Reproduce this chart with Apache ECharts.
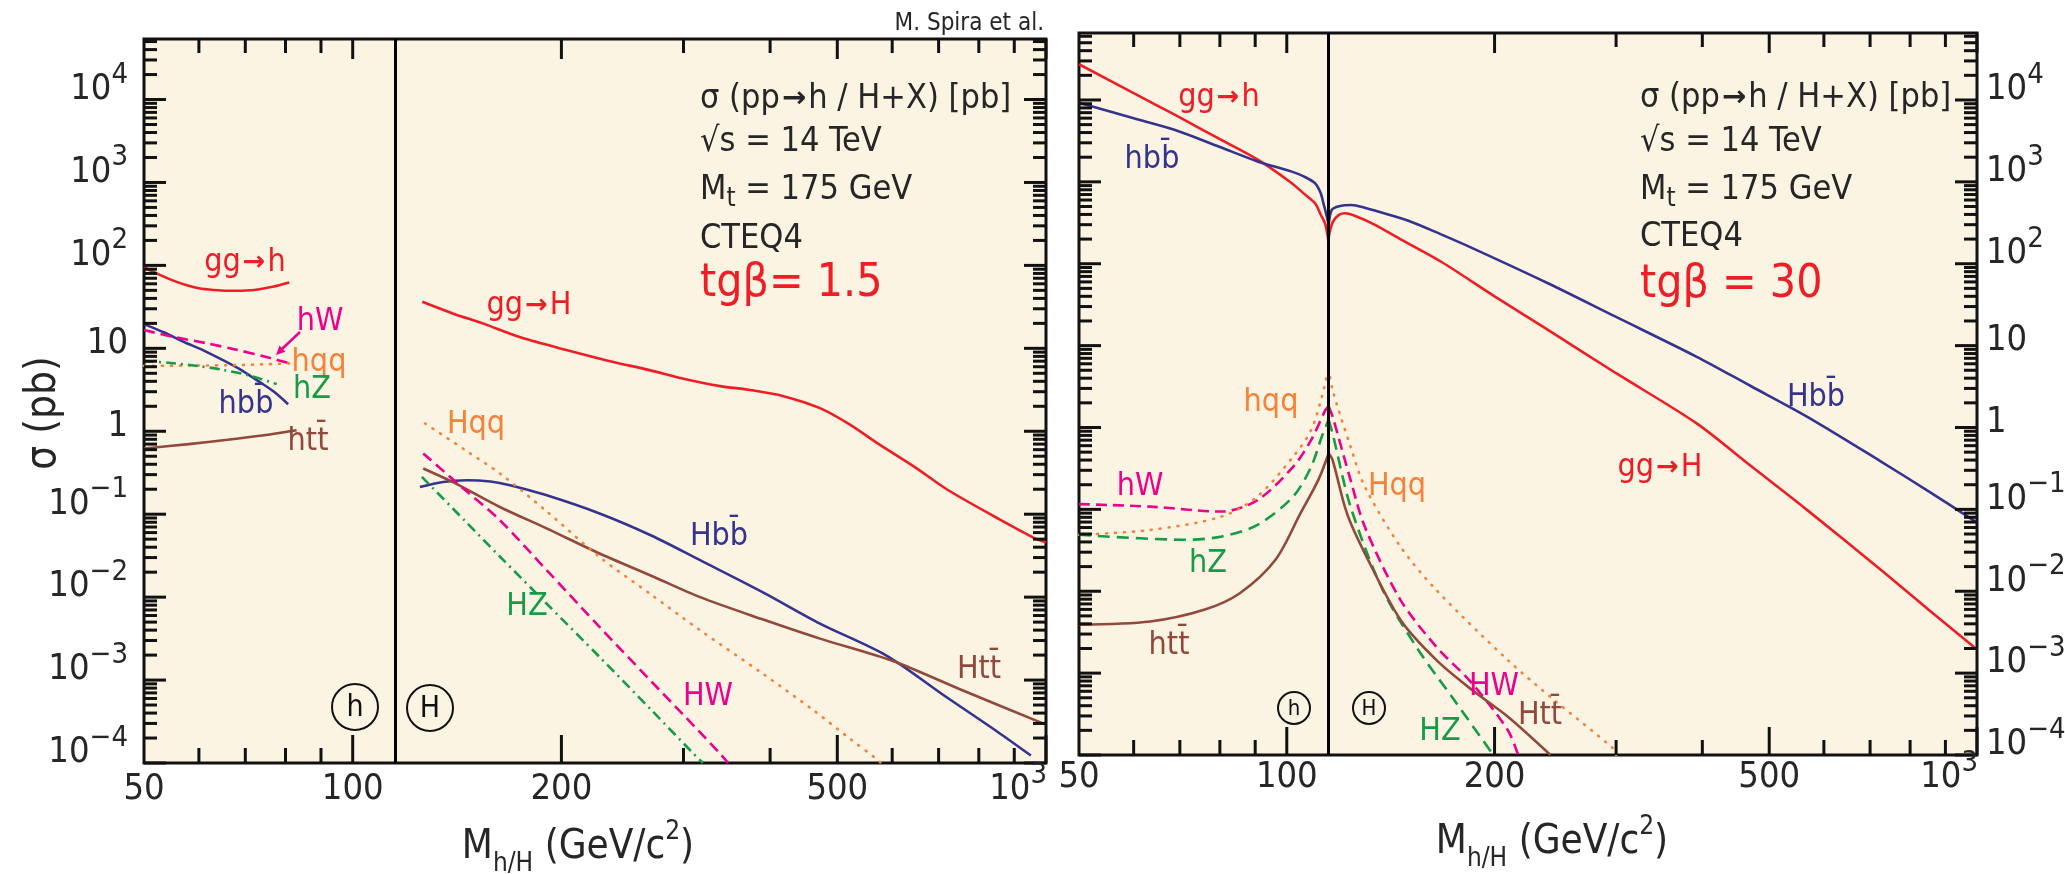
<!DOCTYPE html>
<html><head><meta charset="utf-8">
<script src="https://cdn.jsdelivr.net/npm/echarts@6/dist/echarts.min.js"></script>
<style>html,body{margin:0;padding:0;background:#fff}#c{width:2065px;height:874px}</style>
</head><body><div id="c"></div>
<script>
// ================= DATA : tg(beta) = 1.5  (left panel) =================
// [M_h/H (GeV), sigma (pb)]
const L_GG_h = [[50,95],[52.5,78],[55,66],[57.5,58],[60,53],[63,50.5],[66,49.4],[70,49.8],[73,51.3],[77,55.5],[81,62]];
const L_BB_h = [[50,19.6],[53.5,15.5],[57,12.0],[61,9.4],[65,7.2],[69,5.5],[72.7,4.13],[77,3.0],[80.7,2.12]];
const L_W_h  = [[50,16.6],[55,13.8],[61.6,11.5],[68,9.6],[74.3,8.05],[78,7.2],[81.2,6.57]];
const L_QQ_h = [[50,6.15],[58,6.2],[66,6.25],[74,6.4],[81.2,6.6]];
const L_Z_h  = [[50,7.0],[54.2,6.7],[60,6.1],[65,5.5],[71,4.7],[77.7,3.7]];
const L_TT_h = [[50,0.62],[58,0.70],[66,0.79],[74,0.89],[83,1.03]];

const L_GG_H = [[126,36.4],[140,26],[154,20],[175,13.5],[204,9.5],[235,7.0],[268,5.46],[300,4.3],[339,3.5],[374,3.15],[418,2.65],[472,1.9],[520,1.22],[574,0.70],[650,0.36],[719,0.20],[850,0.09],[962,0.0515],[1000,0.046]];
const L_BB_H = [[125,0.213],[135,0.245],[146,0.257],[158,0.248],[168.6,0.224],[190,0.17],[227,0.102],[270,0.055],[317,0.0279],[390,0.0115],[472,4.8e-3],[587,2.0e-3],[719,6.2e-4],[850,2.4e-4],[951,1.23e-4]];
const L_TT_H = [[126.4,0.356],[140,0.24],[163,0.122],[190,0.068],[227,0.0336],[270,0.018],[317,0.01],[390,5.4e-3],[472,3.16e-3],[600,1.71e-3],[750,7.8e-4],[1000,2.9e-4]];
const L_QQ_H = [[127.2,1.24],[145,0.6],[163,0.31],[190,0.11],[227,0.0305],[270,0.0106],[317,3.99e-3],[390,1.2e-3],[462,4.32e-4],[520,2.0e-4],[568,1.14e-4],[578,1.0e-4]];
const L_W_H  = [[126.4,0.54],[145,0.198],[163,0.0847],[190,0.0216],[227,4.37e-3],[270,9.5e-4],[300,3.8e-4],[338.6,1.3e-4],[348,1.0e-4]];
const L_Z_H  = [[125.8,0.282],[145,0.084],[163,0.0309],[190,8.5e-3],[227,1.9e-3],[270,4.3e-4],[310,1.3e-4],[320,1.0e-4]];

// ================= DATA : tg(beta) = 30  (right panel) =================
const R_GG_h = [[50,27300],[60,12100],[68.9,6560],[80,3320],[90.9,1850],[101.7,961],[106,713],[109.9,548],[112,397],[113.6,312],[114.5,230],[115,175]];
const R_BB_h = [[50,9270],[60,5980],[68.9,4300],[80,2665],[90.9,1765],[101.7,1333],[106,1158],[109.9,961],[112,726],[113,548],[114.3,376],[115,300]];
const R_W_h  = [[50,0.116],[63.4,0.108],[80.5,0.094],[90.7,0.130],[102.2,0.333],[108.5,0.706],[113.8,1.64],[115,1.80]];
const R_QQ_h = [[50,0.0489],[63.4,0.056],[80.5,0.0817],[90.7,0.144],[102.2,0.442],[108.5,0.935],[112.4,2.38],[115,5.29]];
const R_Z_h  = [[50,0.0489],[71.5,0.0425],[80.5,0.0466],[90.7,0.0647],[102.2,0.144],[108.5,0.333],[112.4,0.774],[115,1.24]];
const R_TT_h = [[50,3.89e-3],[63.4,4.27e-3],[75.9,5.93e-3],[85.5,9.46e-3],[96.3,0.0242],[104.7,0.0898],[111.1,0.229],[115,0.485]];

const R_GG_H = [[115,210],[116.5,320],[119,395],[121.5,414],[127,370],[134,300],[146,200],[167.6,105],[200,40],[239,15.6],[300,4.6],[392,1.13],[470,0.34],[567,0.0986],[726,0.0182],[850,6.0e-3],[1000,1.94e-3]];
const R_BB_H = [[115,300],[116.2,454],[119,505],[124.2,522],[130,480],[136,430],[150,335],[167,230],[187.4,150],[239,57.8],[300,22.4],[392,7.35],[470,3.21],[567,1.36],[726,0.384],[850,0.167],[1000,0.069]];
const R_QQ_H = [[115,5.29],[116.5,2.88],[123.7,0.585],[129.7,0.19],[146.1,0.0351],[164.6,0.0104],[208.9,1.45e-3],[243.8,4.72e-4],[298.6,1.16e-4],[300,1.0e-4]];
const R_W_H  = [[115,1.80],[116.5,1.36],[123.7,0.229],[129.7,0.0616],[146.1,7.85e-3],[164.6,2.11e-3],[185.4,7.55e-4],[208.9,2.03e-4],[216.4,1.0e-4]];
const R_Z_H  = [[115,1.24],[116.5,0.851],[123.7,0.108],[137.7,0.0104],[155.1,1.92e-3],[174.7,4.72e-4],[199.2,1.0e-4]];
const R_TT_H = [[115,0.485],[116.5,0.402],[122.2,0.0898],[129.7,0.0292],[146.1,4.48e-3],[164.6,1.45e-3],[185.4,6.25e-4],[208.9,2.95e-4],[241,1.0e-4]];

// ================= AXES : ticks & labels =================
const X_TICK_MAJOR = [100, 200, 500, 1000];
const X_TICK_MINOR = [60, 70, 80, 90, 300, 400, 600, 700, 800, 900];
const Y_DECADES = [1e-4, 1e-3, 1e-2, 1e-1, 1, 10, 100, 1000, 10000];
const Y_MINOR_MULT = [2, 3, 4, 5, 6, 7, 8, 9];
const X_LABEL_VALUES = [50, 100, 200, 500, 1000];
const X_LABELS = ['50', '100', '200', '500', '10^3'];
const Y_LABELS = ['10^-4', '10^-3', '10^-2', '10^-1', '1', '10', '10^2', '10^3', '10^4'];
const M_SEPARATOR = 115;
const X_MIN = 50, X_MAX = 1000, Y_MIN = 1e-4;

// ================= STYLE =================
const FONT = "'Liberation Sans Narrow','Arial Narrow','DejaVu Sans Condensed','Liberation Sans',sans-serif";
const RED = '#ee1d26', BLUE = '#34348f', MAG = '#ec008c', ORA = '#f5823a', GRN = '#169c47', BRN = '#90493b';
const INK = '#262626';
const DASH = [11, 6], DOT = [1, 8], DASHDOT = [10, 5, 2, 5];

const PANELS = [
  { grid: { left: 144, top: 39, width: 902, height: 724 }, yMax: 53680, labSide: 'left', xLabGap: 27 },
  { grid: { left: 1079, top: 33, width: 898, height: 722 }, yMax: 65770, labSide: 'right', xLabGap: 23 }
];

const RICH = {
  b: { fontSize: 36, fontFamily: FONT, lineHeight: 58, fill: INK },
  s: { fontSize: 29, fontFamily: FONT, lineHeight: 29, verticalAlign: 'top', fill: INK }
};
function fmtPow(t) {
  const i = t.indexOf('^');
  if (i < 0) return '{b|' + t + '}';
  return '{b|' + t.slice(0, i) + '}{s|' + t.slice(i + 1).replace('-', '\u2212') + '}';
}

function tickSeries(pi) {
  const P = PANELS[pi];
  const data = [];
  X_TICK_MAJOR.forEach(v => data.push([v, Y_MIN, 0]));
  X_TICK_MINOR.forEach(v => data.push([v, Y_MIN, 1]));
  Y_DECADES.forEach(d => {
    data.push([X_MIN, d, 2]);
    Y_MINOR_MULT.forEach(m => { if (d * m <= P.yMax) data.push([X_MIN, d * m, 3]); });
  });
  return {
    type: 'custom', xAxisIndex: pi, yAxisIndex: pi, silent: true, clip: false, z: 6, animation: false,
    data,
    renderItem(params, api) {
      const cs = params.coordSys;
      const k = api.value(2);
      const p = api.coord([api.value(0), api.value(1)]);
      const st = { stroke: '#111', lineWidth: 3 };
      if (k < 2) {
        const L = k === 0 ? 28 : 15, Lt = k === 0 ? 20 : 14;
        const b = cs.y + cs.height, t = cs.y;
        return { type: 'group', children: [
          { type: 'line', shape: { x1: p[0], y1: b, x2: p[0], y2: b - L }, style: st },
          { type: 'line', shape: { x1: p[0], y1: t, x2: p[0], y2: t + Lt }, style: st }
        ] };
      }
      const L = k === 2 ? 22 : 13;
      const l = cs.x, r = cs.x + cs.width;
      return { type: 'group', children: [
        { type: 'line', shape: { x1: l, y1: p[1], x2: l + L, y2: p[1] }, style: st },
        { type: 'line', shape: { x1: r, y1: p[1], x2: r - L, y2: p[1] }, style: st }
      ] };
    }
  };
}

function labelSeries(pi) {
  const P = PANELS[pi];
  const data = [];
  X_LABEL_VALUES.forEach((v, i) => data.push([v, Y_MIN, i, 0]));
  Y_DECADES.forEach((v, i) => data.push([X_MIN, v, i, 1]));
  return {
    type: 'custom', xAxisIndex: pi, yAxisIndex: pi, silent: true, clip: false, z: 7, animation: false,
    data,
    renderItem(params, api) {
      const cs = params.coordSys;
      const p = api.coord([api.value(0), api.value(1)]);
      const i = api.value(2), ax = api.value(3);
      if (ax === 0) {
        const last = X_LABEL_VALUES[i] === X_MAX;
        return { type: 'text', x: last ? p[0] + 1 : p[0], y: cs.y + cs.height + P.xLabGap,
          style: { text: fmtPow(X_LABELS[i]), rich: RICH, align: last ? 'right' : 'center', verticalAlign: 'middle',
                   textAlign: last ? 'right' : 'center', textVerticalAlign: 'middle' } };
      }
      const lab = Y_LABELS[i];
      const dy = lab.indexOf('^') >= 0 ? -10 : -5;
      const left = P.labSide === 'left';
      return { type: 'text', x: left ? cs.x - 16 : cs.x + cs.width + 9, y: p[1] + dy,
        style: { text: fmtPow(lab), rich: RICH, align: left ? 'right' : 'left', verticalAlign: 'middle',
                 textAlign: left ? 'right' : 'left', textVerticalAlign: 'middle' } };
    }
  };
}

function curve(data, color, type, pi, extra) {
  const s = {
    type: 'line', data, xAxisIndex: pi, yAxisIndex: pi, showSymbol: false, symbol: 'none',
    smooth: 0.3, animation: false, z: 3, silent: true,
    lineStyle: { color, width: 2.6, type: type || 'solid', cap: type === DOT ? 'round' : 'butt' }
  };
  return Object.assign(s, extra || {});
}
function sep(pi) {
  return { markLine: { silent: true, symbol: ['none', 'none'], animation: false, label: { show: false },
    lineStyle: { color: '#000', width: 3, type: 'solid' }, data: [{ xAxis: M_SEPARATOR }] } };
}

// ---------- annotations ----------
function T(x, y, text, fill, size, align, extra) {
  align = align || 'center';
  return { type: 'text', x, y, z: 100, silent: true,
    style: Object.assign({ text, fill, font: size + 'px ' + FONT, align, verticalAlign: 'middle',
      textAlign: align, textVerticalAlign: 'middle' }, extra || {}) };
}
function arrowLabel(x, y, pre, post, fill, size, align) {
  return T(x, y, '{a|' + pre + '}{r|\u2192}{a|' + post + '}', fill, size, align, {
    rich: { a: { fill, fontSize: size, fontFamily: FONT },
            r: { fill, fontSize: Math.round(size * 0.85), fontFamily: 'DejaVu Sans', fontWeight: 'bold', padding: [0, 2, 0, 2] } } });
}
function circ(x, y, r, ch, size) {
  return [
    { type: 'circle', z: 100, silent: true, shape: { cx: x, cy: y, r }, style: { fill: 'none', stroke: '#111', lineWidth: 2 } },
    T(x, y + 1, ch, '#111', size)
  ];
}
function block(x, tg, ys) {
  const sz = 34;
  return [
    arrowLabel(x, ys[0], '\u03c3 (pp', 'h / H+X) [pb]', INK, sz, 'left'),
    T(x, ys[1], '\u221As = 14 TeV', INK, sz, 'left'),
    T(x, ys[2], '{a|M}{b|t}{a| = 175 GeV}', INK, sz, 'left', {
      rich: { a: { fontSize: sz, fontFamily: FONT, fill: INK, lineHeight: 44 },
              b: { fontSize: 26, fontFamily: FONT, fill: INK, lineHeight: 26, verticalAlign: 'bottom' } } }),
    T(x, ys[3], 'CTEQ4', INK, sz, 'left'),
    T(x, ys[4], tg, RED, 46, 'left')
  ];
}
function xTitle(x, y) {
  const sz = 40;
  return T(x, y, '{a|M}{b|h/H}{a| (GeV/c}{c|2}{a|)}', INK, sz, 'center', {
    rich: { a: { fontSize: sz, fontFamily: FONT, fill: INK, lineHeight: 58 },
            b: { fontSize: 26, fontFamily: FONT, fill: INK, lineHeight: 26, verticalAlign: 'bottom' },
            c: { fontSize: 26, fontFamily: FONT, fill: INK, lineHeight: 26, verticalAlign: 'top' } } });
}

const LS = 32; // curve label size
const graphics = [
  T(1044, 24, 'M. Spira et al.', INK, 24, 'right'),
  ...block(700, 'tg\u03b2= 1.5', [99, 142, 190, 239, 284]),
  ...block(1640, 'tg\u03b2 = 30', [98, 142, 190, 237, 285]),
  // left panel curve labels
  arrowLabel(245, 263, 'gg', 'h', RED, LS),
  T(320, 322, 'hW', MAG, LS),
  T(319, 363, 'hqq', ORA, LS),
  T(312, 390, 'hZ', GRN, LS),
  T(246, 405, 'hbb\u0304', BLUE, LS),
  T(308, 442, 'htt\u0304', BRN, LS),
  arrowLabel(529, 306, 'gg', 'H', RED, LS),
  T(476, 425, 'Hqq', ORA, LS),
  T(719, 537, 'Hbb\u0304', BLUE, LS),
  T(527, 607, 'HZ', GRN, LS),
  T(708, 697, 'HW', MAG, LS),
  T(979, 670, 'Htt\u0304', BRN, LS),
  { type: 'polyline', z: 100, silent: true, shape: { points: [[300, 332], [282, 349]] }, style: { stroke: MAG, lineWidth: 2.5, fill: null } },
  { type: 'polygon', z: 100, silent: true, shape: { points: [[276, 355], [285.5, 351.7], [279.5, 345.6]] }, style: { fill: MAG } },
  ...circ(355, 707, 23, 'h', 30),
  ...circ(430, 708, 23, 'H', 30),
  // right panel curve labels
  arrowLabel(1219, 98, 'gg', 'h', RED, LS),
  T(1152, 160, 'hbb\u0304', BLUE, LS),
  T(1816, 398, 'Hbb\u0304', BLUE, LS),
  arrowLabel(1660, 468, 'gg', 'H', RED, LS),
  T(1271, 403, 'hqq', ORA, LS),
  T(1397, 487, 'Hqq', ORA, LS),
  T(1140, 487, 'hW', MAG, LS),
  T(1208, 564, 'hZ', GRN, LS),
  T(1169, 646, 'htt\u0304', BRN, LS),
  T(1494, 687, 'HW', MAG, LS),
  T(1540, 716, 'Htt\u0304', BRN, LS),
  T(1440, 732, 'HZ', GRN, LS),
  ...circ(1294, 708, 16, 'h', 22),
  ...circ(1369, 708, 16, 'H', 22),
  // axis titles
  xTitle(578, 848),
  xTitle(1552, 843),
  Object.assign(T(44, 413, '\u03c3 (pb)', INK, 42), { rotation: Math.PI / 2 })
];

const axisCommon = { type: 'log', logBase: 10, axisLine: { show: false }, axisTick: { show: false },
  axisLabel: { show: false }, splitLine: { show: false } };

const option = {
  animation: false,
  backgroundColor: '#ffffff',
  grid: PANELS.map(P => Object.assign({ show: true, backgroundColor: '#fcf4e3', borderColor: '#111', borderWidth: 3 }, P.grid)),
  xAxis: PANELS.map((P, i) => Object.assign({ gridIndex: i, min: X_MIN, max: X_MAX }, axisCommon)),
  yAxis: PANELS.map((P, i) => Object.assign({ gridIndex: i, min: Y_MIN, max: P.yMax }, axisCommon)),
  series: [
    curve(L_GG_h, RED, 'solid', 0, sep(0)),
    curve(L_BB_h, BLUE, 'solid', 0),
    curve(L_W_h, MAG, DASH, 0),
    curve(L_QQ_h, ORA, DOT, 0),
    curve(L_Z_h, GRN, DASHDOT, 0),
    curve(L_TT_h, BRN, 'solid', 0),
    curve(L_GG_H, RED, 'solid', 0),
    curve(L_BB_H, BLUE, 'solid', 0),
    curve(L_TT_H, BRN, 'solid', 0),
    curve(L_QQ_H, ORA, DOT, 0),
    curve(L_W_H, MAG, DASH, 0),
    curve(L_Z_H, GRN, DASHDOT, 0),

    curve(R_GG_h, RED, 'solid', 1, sep(1)),
    curve(R_BB_h, BLUE, 'solid', 1),
    curve(R_W_h, MAG, DASH, 1),
    curve(R_QQ_h, ORA, DOT, 1),
    curve(R_Z_h, GRN, [12, 7], 1),
    curve(R_TT_h, BRN, 'solid', 1),
    curve(R_GG_H, RED, 'solid', 1),
    curve(R_BB_H, BLUE, 'solid', 1),
    curve(R_QQ_H, ORA, DOT, 1),
    curve(R_W_H, MAG, DASH, 1),
    curve(R_Z_H, GRN, [12, 7], 1),
    curve(R_TT_H, BRN, 'solid', 1),

    tickSeries(0), tickSeries(1), labelSeries(0), labelSeries(1)
  ],
  graphic: { elements: graphics }
};

const chart = echarts.init(document.getElementById('c'), null, { renderer: 'canvas' });
chart.setOption(option);
</script>
</body></html>
